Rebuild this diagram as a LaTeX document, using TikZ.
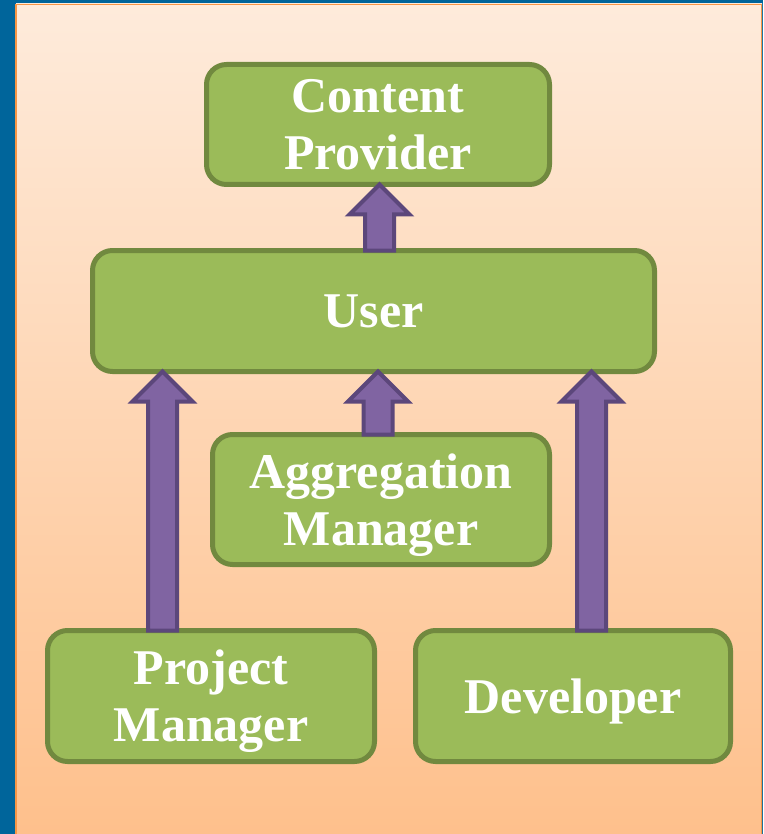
\documentclass[tikz,border=0pt]{standalone}
\usepackage{fontspec}
\setmainfont{Liberation Serif}
\usetikzlibrary{calc}
\definecolor{frameblue}{RGB}{0,101,155}
\definecolor{frameorange}{RGB}{247,150,70}
\definecolor{bgtop}{RGB}{254,235,219}
\definecolor{bgbottom}{RGB}{254,192,140}
\definecolor{boxfill}{RGB}{155,187,89}
\definecolor{boxdraw}{RGB}{113,137,63}
\definecolor{arrowfill}{RGB}{128,100,162}
\definecolor{arrowdraw}{RGB}{92,71,123}
\tikzset{
  box/.style={draw=boxdraw, fill=boxfill, line width=5pt, rounded corners=20pt,
    outer sep=0pt, text=white, align=center, text depth=0pt,
    font=\fontsize{50}{57}\selectfont\bfseries},
  barrow/.style={fill=arrowfill, draw=arrowdraw, line width=4pt, line join=miter}
}
\newcommand\blockarrow[3]{%
  \draw[barrow] let \p1=(#2.north), \p2=(#3.south) in
    (#1pt-14.5pt,\y1) -- (#1pt-14.5pt,\y2-30pt) -- (#1pt-30pt,\y2-30pt) --
    (#1pt,\y2) -- (#1pt+30pt,\y2-30pt) -- (#1pt+14.5pt,\y2-30pt) --
    (#1pt+14.5pt,\y1) -- cycle;}
\begin{document}
\begin{tikzpicture}[x=1pt,y=-1pt]
\useasboundingbox (0,0) rectangle (763,834);
% frame and background
\fill[frameblue] (0,0) rectangle (763,834);
\shade[top color=bgtop, bottom color=bgbottom] (16,4) rectangle (762,834);
\draw[frameorange, line width=1.5pt] (15.75,834) -- (15.75,4.75) -- (761.25,4.75) -- (761.25,834);
% boxes
\node[box, minimum width=343pt, minimum height=120pt] (cp) at (378,124.5) {Content\\Provider};
\node[box, minimum width=562pt, minimum height=121pt] (user) at (373.5,311) {User};
\node[box, minimum width=337pt, minimum height=130pt] (agg) at (381,499.5) {Aggregation\\Manager};
\node[box, minimum width=327pt, minimum height=131pt] (pm) at (211,696) {Project\\Manager};
\node[box, minimum width=315pt, minimum height=131pt] (dev) at (573,696) {Developer};
% block arrows
\blockarrow{379.5}{user}{cp}
\blockarrow{378}{agg}{user}
\blockarrow{162.5}{pm}{user}
\blockarrow{591.5}{dev}{user}
\end{tikzpicture}
\end{document}
